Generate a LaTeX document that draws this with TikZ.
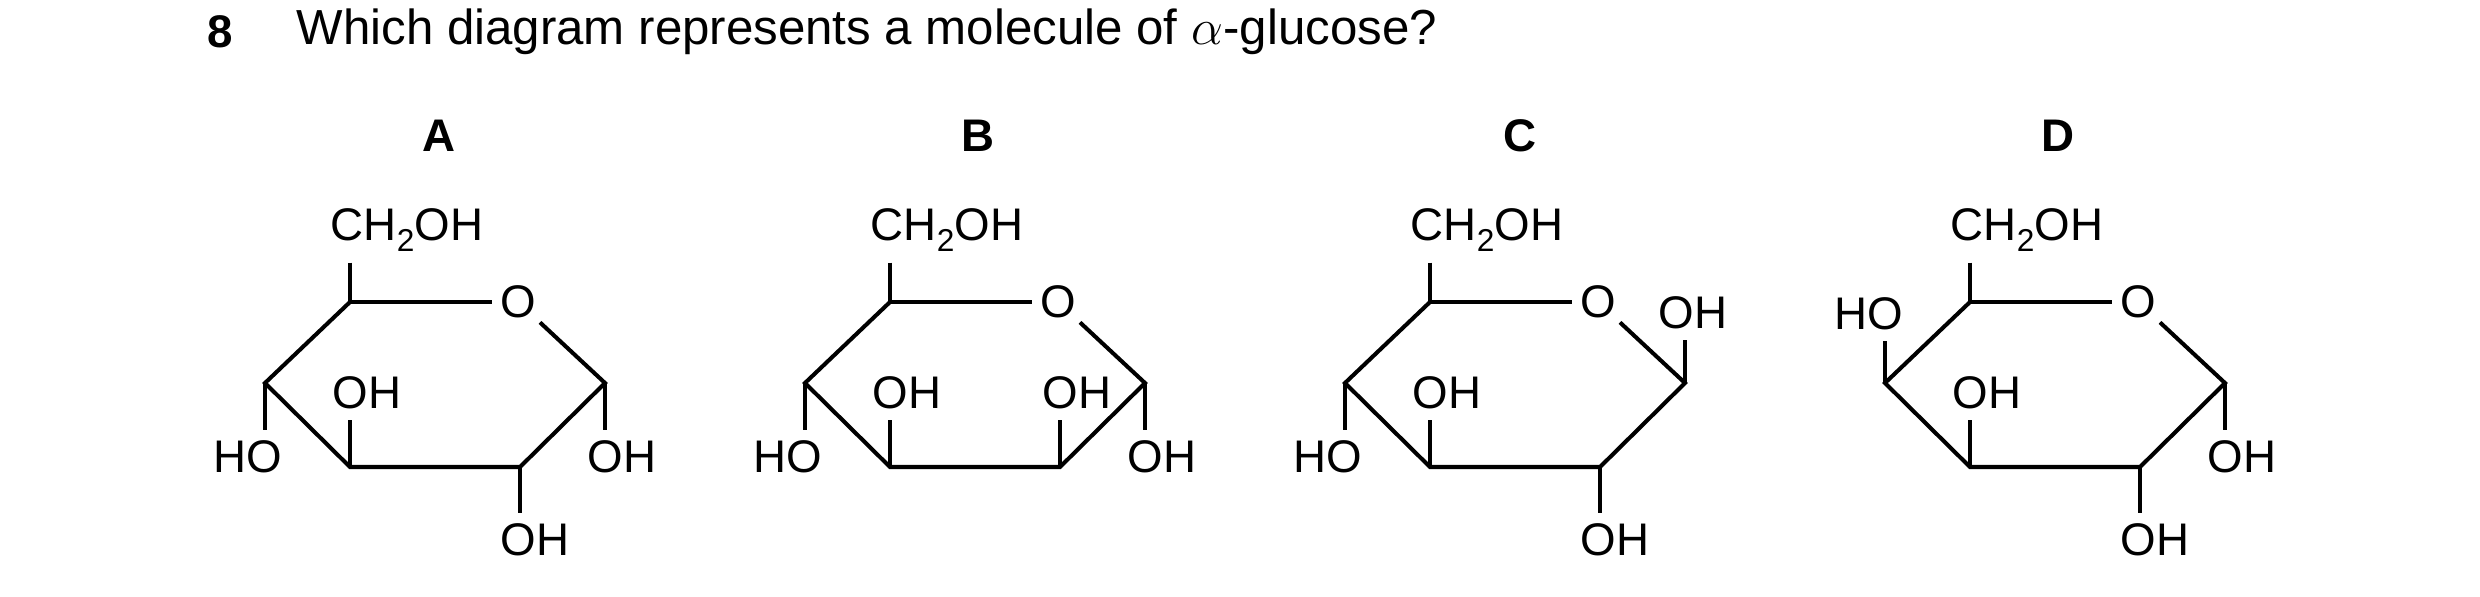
\documentclass[tikz,border=0pt]{standalone}
\usepackage{fontspec}
\setmainfont{Liberation Sans}
\usetikzlibrary{positioning}

\tikzset{
    bond/.style={line width=1.15pt},
    atom/.style={inner sep=0pt, font=\fontsize{13}{15}\selectfont},
    letter/.style={font=\fontsize{13}{15}\selectfont\bfseries},
}
\newcommand{\subtwo}{\raisebox{-0.45ex}{\fontsize{9}{9}\selectfont 2}}

% ring skeleton: #1 = prefix of node names
\newcommand{\glcring}[1]{%
    \coordinate (#1c5) at (0, 0);
    \coordinate (#1c1) at (255, 81);
    \coordinate (#1c2) at (170, 165);
    \coordinate (#1c3) at (0, 165);
    \coordinate (#1c4) at (-85, 81);
    \node[atom] (#1o) at (168, 0) {O};
    \node[atom] (#1ch) at (57, -72) {CH\subtwo OH};
    \node[atom] (#1oh3) at (17, 91) {OH};
    \draw[bond] ([yshift=-3pt]#1ch.south -| #1c5) -- (#1c5) -- ([xshift=-2pt]#1o.west);
    \draw[bond] ([shift={(1pt,-1pt)}]#1o.south east) -- (#1c1) -- (#1c2) -- (#1c3) -- (#1c4) -- (#1c5);
    \draw[bond] (#1c3) -- ([yshift=-3pt]#1oh3.south -| #1c3);
}

\begin{document}
\begin{tikzpicture}[x=0.01cm, y=-0.01cm]
    \useasboundingbox (0, 0) rectangle (2480, 596);

    \node[letter] (num) at (220, 32) {8};
    \node[atom, anchor=west, font=\fontsize{14}{16}\selectfont] (q) at (296, 32)
        {Which diagram represents a molecule of $\alpha$-glucose?};

    \foreach \lab/\px in {A/439, B/978, C/1520, D/2058}
        \node[letter] (lab\lab) at (\px, 136) {\lab};

    % A
    \begin{scope}[shift={(350, 302)}]
        \glcring{a}
        \node[atom] (aho4) at (-102, 155) {HO};
        \node[atom] (aoh1) at (272, 155) {OH};
        \node[atom] (aoh2) at (185, 238) {OH};
        \draw[bond] (ac4) -- ([yshift=3pt]aho4.north -| ac4);
        \draw[bond] (ac1) -- ([yshift=3pt]aoh1.north -| ac1);
        \draw[bond] (ac2) -- ([yshift=3pt]aoh2.north -| ac2);
    \end{scope}

    % B
    \begin{scope}[shift={(890, 302)}]
        \glcring{b}
        \node[atom] (bho4) at (-102, 155) {HO};
        \node[atom] (boh1) at (272, 155) {OH};
        \node[atom] (boh2) at (187, 91) {OH};
        \draw[bond] (bc4) -- ([yshift=3pt]bho4.north -| bc4);
        \draw[bond] (bc1) -- ([yshift=3pt]boh1.north -| bc1);
        \draw[bond] (bc2) -- ([yshift=-3pt]boh2.south -| bc2);
    \end{scope}

    % C
    \begin{scope}[shift={(1430, 302)}]
        \glcring{c}
        \node[atom] (cho4) at (-102, 155) {HO};
        \node[atom] (coh1) at (263, 11) {OH};
        \node[atom] (coh2) at (185, 238) {OH};
        \draw[bond] (cc4) -- ([yshift=3pt]cho4.north -| cc4);
        \draw[bond] (cc1) -- ([yshift=-3pt]coh1.south -| cc1);
        \draw[bond] (cc2) -- ([yshift=3pt]coh2.north -| cc2);
    \end{scope}

    % D
    \begin{scope}[shift={(1970, 302)}]
        \glcring{d}
        \node[atom] (dho4) at (-101, 12) {HO};
        \node[atom] (doh1) at (272, 155) {OH};
        \node[atom] (doh2) at (185, 238) {OH};
        \draw[bond] (dc4) -- ([yshift=-3pt]dho4.south -| dc4);
        \draw[bond] (dc1) -- ([yshift=3pt]doh1.north -| dc1);
        \draw[bond] (dc2) -- ([yshift=3pt]doh2.north -| dc2);
    \end{scope}
\end{tikzpicture}
\end{document}
